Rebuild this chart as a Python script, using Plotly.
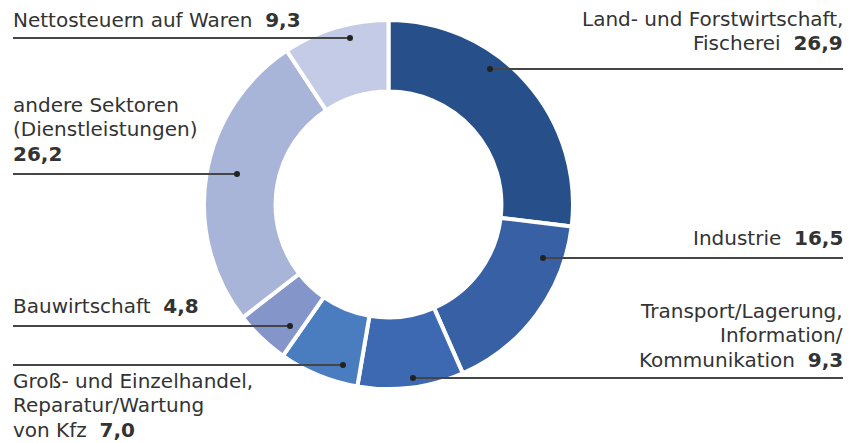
import plotly.graph_objects as go

W, H = 854, 443

sectors = [
    "Land- und Forstwirtschaft, Fischerei",
    "Industrie",
    "Transport/Lagerung, Information/Kommunikation",
    "Groß- und Einzelhandel, Reparatur/Wartung von Kfz",
    "Bauwirtschaft",
    "andere Sektoren (Dienstleistungen)",
    "Nettosteuern auf Waren",
]
values = [26.9, 16.5, 9.3, 7.0, 4.8, 26.2, 9.3]
colors = ["#27508b", "#3760a5", "#3d69b3", "#497dc0", "#8495ca", "#a8b4d8", "#c3cbe6"]

# label text lines (value is appended in bold to the last line)
label_lines = [
    ["Land- und Forstwirtschaft,", "Fischerei"],
    ["Industrie"],
    ["Transport/Lagerung,", "Information/", "Kommunikation"],
    ["Groß- und Einzelhandel,", "Reparatur/Wartung", "von Kfz"],
    ["Bauwirtschaft"],
    ["andere Sektoren", "(Dienstleistungen)", ""],
    ["Nettosteuern auf Waren"],
]

# layout of labels (pixel positions): side, first baseline, leader y, dot x, line end x
label_layout = [
    dict(side="right", base=28, ly=69, dot=490, end=843),
    dict(side="right", base=247, ly=258, dot=543, end=843),
    dict(side="right", base=320, ly=378, dot=413, end=843),
    dict(side="left", base=390, ly=365, dot=343, end=13),
    dict(side="left", base=315, ly=326, dot=290, end=13),
    dict(side="left", base=114, ly=174, dot=237, end=13),
    dict(side="left", base=29, ly=38, dot=350, end=13),
]
LINE_PITCH = 24.3
FONT = "DejaVu Sans"
FS = 20

def fmt(v):
    return f"{v:.1f}".replace(".", ",")

fig = go.Figure()
fig.add_trace(go.Pie(
    labels=sectors,
    values=values,
    sort=False,
    direction="clockwise",
    rotation=0,
    hole=0.612,
    marker=dict(colors=colors, line=dict(color="white", width=4)),
    textinfo="none",
    hoverinfo="label+value",
    domain=dict(x=[204 / W, 573 / W], y=[1 - 389 / H, 1 - 20 / H]),
))

shapes = []
annotations = []
for lines, v, lay in zip(label_lines, values, label_layout):
    ly = 1 - lay["ly"] / H
    shapes.append(dict(type="line", xref="paper", yref="paper",
                       x0=lay["end"] / W, x1=lay["dot"] / W, y0=ly, y1=ly,
                       line=dict(color="#454545", width=1.8)))
    r = 3
    shapes.append(dict(type="circle", xref="paper", yref="paper",
                       x0=(lay["dot"] - r) / W, x1=(lay["dot"] + r) / W,
                       y0=1 - (lay["ly"] + r) / H, y1=1 - (lay["ly"] - r) / H,
                       fillcolor="#222222", line=dict(width=0)))
    for i, t in enumerate(lines):
        last = i == len(lines) - 1
        txt = t
        if last:
            txt = (t + "  " if t else "") + f"<b>{fmt(v)}</b>"
        base = lay["base"] + i * LINE_PITCH
        annotations.append(dict(
            xref="paper", yref="paper",
            x=(lay["end"] + (2 if lay["side"] == "right" else -2)) / W,
            y=1 - base / H,
            xanchor="right" if lay["side"] == "right" else "left",
            yanchor="bottom",
            yshift=-5,
            text=txt, showarrow=False,
            font=dict(family=FONT, size=FS, color="#333333"),
        ))

fig.update_layout(
    width=W, height=H,
    margin=dict(l=0, r=0, t=0, b=0),
    paper_bgcolor="white", plot_bgcolor="white",
    showlegend=False,
    shapes=shapes, annotations=annotations,
)
fig.write_html("out.html", config={"displayModeBar": False},
               post_script="document.body.style.margin='0px';")
